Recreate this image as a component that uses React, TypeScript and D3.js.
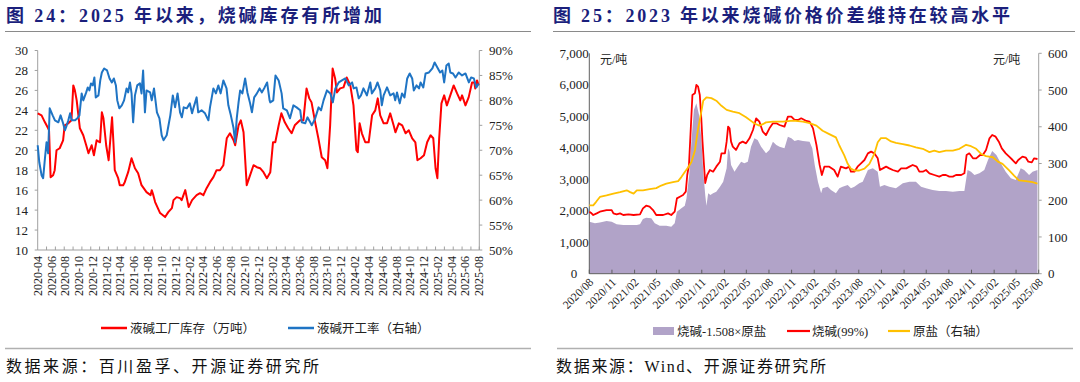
import React from "react";
import * as d3 from "d3";

// ---------- Left chart data ----------
const leftTitle = "图 24：2025 年以来，烧碱库存有所增加";
const leftSource = "数据来源：百川盈孚、开源证券研究所";
const leftSeriesNames = ["液碱工厂库存（万吨）", "液碱开工率（右轴）"];
const leftYTicks = [10, 12, 14, 16, 18, 20, 22, 24, 26, 28, 30];
const leftY2Ticks = [50, 55, 60, 65, 70, 75, 80, 85, 90];

// 液碱工厂库存（万吨）
const inventory: [string, number][] = [
  ["2020-04-01",23.7],["2020-04-18",23.5],["2020-05-03",22.8],["2020-05-17",22.2],["2020-05-21",22.0],["2020-05-28",17.3],
  ["2020-06-08",17.5],["2020-06-15",18.0],["2020-06-23",20.0],["2020-07-07",20.2],["2020-07-22",21.0],["2020-07-29",22.5],
  ["2020-08-14",22.7],["2020-08-28",23.0],["2020-09-05",26.5],["2020-09-12",26.0],["2020-09-20",25.0],["2020-10-04",22.2],
  ["2020-10-19",21.5],["2020-11-01",20.5],["2020-11-11",19.7],["2020-11-25",20.5],["2020-12-05",19.5],["2020-12-17",21.0],
  ["2021-01-01",20.8],["2021-01-09",23.8],["2021-01-16",23.2],["2021-01-28",20.5],["2021-02-08",19.0],["2021-02-23",23.3],
  ["2021-03-01",20.8],["2021-03-07",18.0],["2021-03-22",17.2],["2021-03-29",16.5],["2021-04-13",16.5],["2021-04-20",16.8],
  ["2021-05-05",17.8],["2021-05-20",19.2],["2021-06-04",18.2],["2021-06-18",17.7],["2021-07-03",16.5],["2021-07-25",15.8],
  ["2021-08-12",15.5],["2021-08-17",16.0],["2021-08-24",15.5],["2021-09-01",14.8],["2021-09-23",13.7],["2021-10-15",13.3],
  ["2021-10-29",13.8],["2021-11-14",14.2],["2021-11-21",15.0],["2021-12-05",15.3],["2021-12-20",15.2],["2021-12-27",15.0],
  ["2022-01-12",16.0],["2022-01-27",14.3],["2022-02-11",15.0],["2022-03-03",15.5],["2022-03-18",15.7],["2022-04-02",15.5],
  ["2022-04-16",16.2],["2022-05-01",16.8],["2022-05-16",17.3],["2022-05-30",18.0],["2022-06-14",18.0],["2022-06-29",18.5],
  ["2022-07-14",21.2],["2022-07-28",21.7],["2022-08-13",21.0],["2022-08-20",20.5],["2022-09-04",22.5],["2022-09-14",23.0],
  ["2022-09-26",21.8],["2022-10-10",16.5],["2022-10-25",17.5],["2022-11-09",18.5],["2022-11-24",18.3],["2022-12-08",18.2],
  ["2022-12-23",17.8],["2023-01-07",17.2],["2023-01-22",17.8],["2023-02-03",20.8],["2023-02-13",20.8],["2023-02-28",22.5],
  ["2023-03-12",23.7],["2023-03-27",22.8],["2023-04-11",22.2],["2023-04-26",21.7],["2023-05-10",22.5],["2023-06-02",23.0],
  ["2023-06-17",23.0],["2023-07-01",26.2],["2023-07-13",25.2],["2023-07-23",24.8],["2023-08-08",22.8],["2023-08-22",21.2],
  ["2023-09-06",19.3],["2023-09-21",19.0],["2023-10-01",18.2],["2023-10-13",22.5],["2023-10-24",28.2],["2023-11-04",27.2],
  ["2023-11-12",25.8],["2023-11-26",26.2],["2023-12-11",26.3],["2023-12-25",27.3],["2024-01-10",26.5],["2024-01-24",24.5],
  ["2024-02-06",20.0],["2024-02-12",19.8],["2024-02-20",22.7],["2024-03-01",21.7],["2024-03-16",20.8],["2024-03-31",20.8],
  ["2024-04-15",23.5],["2024-04-29",24.0],["2024-05-10",25.2],["2024-05-21",23.5],["2024-06-05",22.7],["2024-06-20",22.7],
  ["2024-07-04",23.7],["2024-07-19",22.5],["2024-07-27",21.8],["2024-08-11",22.7],["2024-08-26",22.5],["2024-09-10",21.7],
  ["2024-09-24",22.0],["2024-10-09",21.2],["2024-10-23",20.8],["2024-11-01",19.0],["2024-11-15",19.2],["2024-11-30",19.5],
  ["2024-12-14",20.8],["2024-12-29",21.5],["2025-01-10",21.2],["2025-01-20",18.2],["2025-01-28",17.2],["2025-02-05",21.2],
  ["2025-02-15",24.7],["2025-02-27",25.5],["2025-03-11",24.5],["2025-03-26",25.5],["2025-04-10",26.5],["2025-04-25",25.7],
  ["2025-05-09",25.0],["2025-05-17",25.5],["2025-06-01",24.5],["2025-06-15",25.3],["2025-06-30",26.8],["2025-07-10",26.8],
  ["2025-07-14",26.2],["2025-07-22",27.0],["2025-07-29",26.5],
];

// 液碱开工率（%，右轴）
const utilization: [string, number][] = [
  ["2020-04-01",71],["2020-04-08",67.6],["2020-04-18",65],["2020-04-25",64.4],["2020-05-03",68.4],["2020-05-10",71.6],
  ["2020-05-17",69.4],["2020-05-24",78.4],["2020-06-06",77],["2020-06-16",76],["2020-07-01",75.6],["2020-07-11",77],
  ["2020-07-22",75.4],["2020-07-30",74],["2020-08-07",75],["2020-08-14",76],["2020-08-22",77.4],["2020-08-29",76],
  ["2020-09-13",76],["2020-09-23",76.4],["2020-10-02",77],["2020-10-12",81.4],["2020-10-19",80],["2020-11-01",81.6],
  ["2020-11-08",82.6],["2020-11-15",82],["2020-11-22",83.4],["2020-11-30",83],["2020-12-07",84.6],["2020-12-13",80.6],
  ["2020-12-25",81],["2021-01-02",84],["2021-01-09",85.6],["2021-01-19",86.4],["2021-02-01",86],["2021-02-12",84.4],
  ["2021-02-22",83.6],["2021-03-03",84.4],["2021-03-12",83],["2021-03-18",80],["2021-03-27",78.4],["2021-04-07",79],
  ["2021-04-17",80],["2021-04-28",82.4],["2021-05-05",81.6],["2021-05-13",83.6],["2021-05-20",81.4],["2021-05-27",75.6],
  ["2021-06-04",81],["2021-06-14",83],["2021-06-26",83.4],["2021-07-03",81.4],["2021-07-10",86],["2021-07-18",77.6],
  ["2021-07-25",82],["2021-08-10",81.6],["2021-08-17",80],["2021-08-27",82.4],["2021-09-09",77.6],["2021-09-20",76.4],
  ["2021-09-30",73],["2021-10-08",72],["2021-10-22",73],["2021-11-07",77],["2021-11-18",81],["2021-11-28",78.6],
  ["2021-12-09",81.4],["2021-12-20",77.6],["2021-12-28",76.6],["2022-01-05",78.6],["2022-01-19",78.4],["2022-02-01",79.4],
  ["2022-02-11",77.4],["2022-02-18",78.6],["2022-03-03",80.6],["2022-03-10",77.6],["2022-03-25",78],["2022-04-09",77.4],
  ["2022-04-24",76],["2022-05-01",78.6],["2022-05-16",82.4],["2022-05-27",81.4],["2022-06-07",83],["2022-06-17",81.4],
  ["2022-06-29",84],["2022-07-13",82.4],["2022-07-21",79],["2022-08-01",77],["2022-08-13",74.4],["2022-08-20",71.6],
  ["2022-08-27",76.4],["2022-09-04",79.6],["2022-09-11",82],["2022-09-21",81.4],["2022-10-03",84.4],["2022-10-13",81.6],
  ["2022-10-25",79.4],["2022-11-02",77.6],["2022-11-12",80.6],["2022-11-24",81.4],["2022-12-06",82.4],["2022-12-16",81.6],
  ["2022-12-28",82.6],["2023-01-08",83.6],["2023-01-19",80],["2023-01-22",79.6],["2023-02-04",80],["2023-02-14",85],
  ["2023-02-28",84],["2023-03-13",81.4],["2023-03-20",78.4],["2023-04-05",78],["2023-04-19",76.4],["2023-05-04",79],
  ["2023-05-18",78.6],["2023-06-03",78],["2023-06-10",75.6],["2023-06-25",75.4],["2023-07-05",76.6],["2023-07-17",75.6],
  ["2023-07-24",75],["2023-08-08",76.4],["2023-08-23",78.6],["2023-09-03",78],["2023-09-14",80],["2023-09-29",82],
  ["2023-10-14",81.4],["2023-10-25",79.6],["2023-11-05",82.4],["2023-11-20",83.6],["2023-12-04",84],["2023-12-19",84.4],
  ["2024-01-03",83],["2024-01-18",83.6],["2024-01-25",82.4],["2024-02-06",82.6],["2024-02-16",80.4],["2024-02-26",81],
  ["2024-03-08",82.4],["2024-03-23",81],["2024-04-07",83.6],["2024-04-14",81.4],["2024-04-29",82.4],["2024-05-09",83.6],
  ["2024-05-21",82],["2024-05-28",79],["2024-06-05",81],["2024-06-20",82.6],["2024-07-04",81],["2024-07-19",81.4],
  ["2024-07-26",80],["2024-08-03",81.6],["2024-08-15",79.4],["2024-08-25",81.4],["2024-09-05",80.6],["2024-09-17",84.4],
  ["2024-09-28",85.4],["2024-10-09",84.4],["2024-10-16",82],["2024-10-28",83],["2024-11-08",82.4],["2024-11-15",83.6],
  ["2024-11-27",82.6],["2024-12-07",85.4],["2024-12-22",85.6],["2025-01-06",86.4],["2025-01-16",87.6],["2025-01-28",86.6],
  ["2025-02-09",85.6],["2025-02-19",86],["2025-02-27",83.6],["2025-03-09",87],["2025-03-19",87.4],["2025-03-26",85.6],
  ["2025-04-07",85.4],["2025-04-18",84.6],["2025-05-02",85.6],["2025-05-17",85],["2025-06-01",85.4],["2025-06-16",83.6],
  ["2025-06-26",84.6],["2025-07-08",84.4],["2025-07-19",82.6],["2025-07-29",83.4],
];

// ---------- Right chart data ----------
const rightTitle = "图 25：2023 年以来烧碱价格价差维持在较高水平";
const rightSource = "数据来源：Wind、开源证券研究所";
const rightSeriesNames = ["烧碱-1.508×原盐", "烧碱(99%)", "原盐（右轴）"];
const rightYTicks = [0, 1000, 2000, 3000, 4000, 5000, 6000, 7000];
const rightY2Ticks = [0, 100, 200, 300, 400, 500, 600];
const unitLabel = "元/吨";

// 烧碱(99%) 元/吨
const causticSoda: [string, number][] = [
  ["2020-08-01",1970],["2020-08-10",1917],["2020-08-17",1864],["2020-08-31",1917],["2020-09-13",1970],["2020-10-10",2020],
  ["2020-10-31",2020],["2020-11-07",1917],["2020-11-20",1885],["2020-12-04",1917],["2020-12-17",1864],["2021-01-07",1885],
  ["2021-01-28",1864],["2021-02-23",1885],["2021-03-07",2075],["2021-03-20",2160],["2021-04-03",2130],["2021-04-17",2020],
  ["2021-04-30",1864],["2021-05-28",1864],["2021-06-17",1917],["2021-06-30",1864],["2021-07-14",1970],["2021-07-23",2393],
  ["2021-08-04",2446],["2021-08-17",2500],["2021-08-28",2605],["2021-09-03",3135],["2021-09-10",3452],["2021-09-16",4405],
  ["2021-09-24",5676],["2021-10-04",5730],["2021-10-10",5994],["2021-10-17",5940],["2021-10-24",5676],["2021-10-30",4935],
  ["2021-11-04",4194],["2021-11-10",3452],["2021-11-15",2880],["2021-11-23",3135],["2021-12-04",3293],["2021-12-17",3240],
  ["2021-12-30",3400],["2022-01-14",3558],["2022-01-20",3823],["2022-02-03",3823],["2022-02-10",4194],["2022-02-16",4670],
  ["2022-02-22",4617],["2022-02-28",4194],["2022-03-07",4035],["2022-03-20",3930],["2022-04-03",4140],["2022-04-16",4194],
  ["2022-04-30",4140],["2022-05-14",4300],["2022-05-28",4564],["2022-06-10",4935],["2022-06-23",4829],["2022-07-07",4511],
  ["2022-07-20",4405],["2022-08-03",4617],["2022-08-17",4776],["2022-08-31",4776],["2022-09-13",4723],["2022-10-03",4670],
  ["2022-10-17",4988],["2022-10-31",4988],["2022-11-13",4882],["2022-11-27",4882],["2022-12-10",4935],["2022-12-31",4850],
  ["2023-01-13",4829],["2023-01-27",4617],["2023-02-10",4088],["2023-02-23",3452],["2023-03-04",3135],["2023-03-14",3400],
  ["2023-04-03",3400],["2023-04-23",3293],["2023-05-07",3082],["2023-05-20",3400],["2023-06-10",3346],["2023-06-23",3400],
  ["2023-06-30",3240],["2023-07-14",3240],["2023-07-27",3400],["2023-08-10",3505],["2023-08-24",3611],["2023-09-07",3823],
  ["2023-09-20",3876],["2023-10-03",3823],["2023-10-17",3664],["2023-10-26",3293],["2023-11-07",3346],["2023-11-20",3400],
  ["2023-12-03",3346],["2023-12-17",3293],["2024-01-07",3240],["2024-01-20",3346],["2024-02-10",3346],["2024-02-23",3400],
  ["2024-03-07",3452],["2024-03-23",3400],["2024-04-03",3240],["2024-04-17",3240],["2024-04-30",3293],["2024-05-14",3188],
  ["2024-06-03",3135],["2024-06-23",3082],["2024-07-07",3135],["2024-07-20",3135],["2024-08-03",3082],["2024-08-17",3082],
  ["2024-08-30",3135],["2024-09-20",3135],["2024-10-03",3188],["2024-10-12",3770],["2024-10-23",3823],["2024-11-07",3664],
  ["2024-11-20",3664],["2024-12-06",3770],["2024-12-17",3770],["2024-12-30",3930],["2025-01-13",4300],["2025-01-24",4405],
  ["2025-02-07",4352],["2025-02-20",4194],["2025-03-04",3982],["2025-03-20",3823],["2025-04-03",3717],["2025-04-17",3611],
  ["2025-04-30",3505],["2025-05-10",3611],["2025-05-27",3717],["2025-06-10",3685],["2025-06-20",3558],["2025-07-04",3537],
  ["2025-07-13",3664],["2025-07-27",3643],
];

// 原盐（右轴）元/吨
const rawSalt: [string, number][] = [
  ["2020-08-01",186],["2020-08-17",186],["2020-08-28",195],["2020-09-13",209],["2020-10-10",213],["2020-11-07",218],
  ["2020-12-04",222],["2020-12-31",227],["2021-01-14",222],["2021-01-28",218],["2021-02-10",227],["2021-03-07",227],
  ["2021-04-03",230],["2021-04-30",233],["2021-05-20",240],["2021-06-10",245],["2021-07-07",249],["2021-07-28",252],
  ["2021-08-10",263],["2021-08-24",277],["2021-09-07",290],["2021-09-20",304],["2021-10-04",335],["2021-10-17",394],
  ["2021-10-31",444],["2021-11-07",471],["2021-11-20",480],["2021-12-10",478],["2021-12-30",471],["2022-01-20",457],
  ["2022-02-10",446],["2022-03-07",441],["2022-04-03",437],["2022-04-30",426],["2022-05-28",412],["2022-06-10",407],
  ["2022-06-23",403],["2022-07-07",407],["2022-07-20",412],["2022-08-17",414],["2022-09-27",414],["2022-11-07",417],
  ["2022-12-17",414],["2023-01-13",410],["2023-02-10",403],["2023-03-07",389],["2023-04-03",380],["2023-04-30",371],
  ["2023-05-14",349],["2023-06-03",322],["2023-06-17",299],["2023-06-30",286],["2023-07-14",281],["2023-08-03",281],
  ["2023-08-24",286],["2023-09-13",299],["2023-10-03",326],["2023-10-17",358],["2023-10-30",369],["2023-11-20",369],
  ["2023-12-10",360],["2023-12-30",356],["2024-01-27",353],["2024-02-23",349],["2024-03-20",344],["2024-04-17",340],
  ["2024-05-14",331],["2024-06-03",335],["2024-06-23",331],["2024-07-20",335],["2024-08-17",335],["2024-09-13",340],
  ["2024-10-10",351],["2024-10-30",347],["2024-11-20",340],["2024-12-10",326],["2024-12-30",320],["2025-01-27",317],
  ["2025-02-16",305],["2025-03-07",299],["2025-04-03",281],["2025-04-23",267],["2025-05-13",254],["2025-06-10",252],
  ["2025-07-07",249],["2025-07-27",245],
];

// 烧碱-1.508×原盐 元/吨
const spread: [string, number][] = [
  ["2020-08-01",1652],["2020-08-24",1599],["2020-09-13",1630],["2020-10-10",1673],["2020-10-31",1652],["2020-11-20",1567],
  ["2020-12-17",1546],["2021-01-14",1546],["2021-02-10",1546],["2021-02-23",1567],["2021-03-07",1737],["2021-03-20",1779],
  ["2021-04-10",1758],["2021-04-24",1599],["2021-05-14",1525],["2021-06-10",1525],["2021-06-30",1493],["2021-07-14",1599],
  ["2021-07-23",1970],["2021-08-10",2075],["2021-08-24",2160],["2021-08-31",2393],["2021-09-11",3135],["2021-09-20",4194],
  ["2021-09-30",5200],["2021-10-10",5411],["2021-10-21",5040],["2021-10-30",4300],["2021-11-07",3240],["2021-11-15",2500],
  ["2021-11-20",2160],["2021-11-27",2552],["2021-12-06",2500],["2021-12-17",2552],["2021-12-30",2605],["2022-01-14",2764],
  ["2022-01-27",2923],["2022-02-10",3346],["2022-02-16",3982],["2022-02-22",3876],["2022-02-28",3452],["2022-03-14",3240],
  ["2022-03-27",3400],["2022-04-10",3558],["2022-04-23",3505],["2022-05-07",3558],["2022-05-20",4035],["2022-06-03",4300],
  ["2022-06-16",4247],["2022-06-30",4035],["2022-07-20",3823],["2022-08-03",3930],["2022-08-17",4194],["2022-08-31",4088],
  ["2022-09-13",4035],["2022-10-03",3982],["2022-10-17",4353],["2022-10-31",4300],["2022-11-13",4215],["2022-11-27",4247],
  ["2022-12-17",4215],["2023-01-13",4194],["2023-01-24",3982],["2023-02-03",3452],["2023-02-16",2923],["2023-03-01",2552],
  ["2023-03-07",2711],["2023-03-27",2764],["2023-04-10",2658],["2023-04-30",2552],["2023-05-14",2711],["2023-05-27",2764],
  ["2023-06-17",2817],["2023-06-30",2711],["2023-07-14",2764],["2023-08-03",2870],["2023-08-17",2923],["2023-09-07",3293],
  ["2023-09-27",3346],["2023-10-17",3240],["2023-10-26",2764],["2023-11-13",2817],["2023-12-03",2764],["2023-12-30",2711],
  ["2024-01-27",2870],["2024-02-23",2923],["2024-03-20",2923],["2024-04-10",2764],["2024-04-30",2711],["2024-05-27",2658],
  ["2024-06-23",2626],["2024-07-20",2626],["2024-08-17",2605],["2024-09-13",2626],["2024-10-03",2626],["2024-10-16",3293],
  ["2024-10-30",3240],["2024-11-13",3135],["2024-12-03",3188],["2024-12-23",3293],["2025-01-07",3611],["2025-01-24",3897],
  ["2025-02-10",3770],["2025-03-04",3452],["2025-03-20",3240],["2025-04-10",3029],["2025-04-30",2976],["2025-05-20",3346],
  ["2025-06-03",3293],["2025-06-23",3135],["2025-07-07",3240],["2025-07-27",3293],
];

const parse = d3.timeParse("%Y-%m-%d");
const SERIF = "'Liberation Serif','Times New Roman','Noto Sans CJK SC',serif";
const CJK = "'Liberation Serif','Noto Sans CJK SC',sans-serif";
const TITLE_COLOR = "#1b1f7c";

export default function App() {
  // ---- left chart scales ----
  const lStart = parse("2020-04-01")!;
  const lEnd = parse("2025-08-01")!;
  const xL = d3.scaleTime().domain([lStart, lEnd]).range([37.7, 479.3]);
  const yL = d3.scaleLinear().domain([10, 30]).range([250, 50.5]);
  const yL2 = d3.scaleLinear().domain([50, 90]).range([250, 50.5]);
  const lLabels = d3.timeMonth.range(lStart, d3.timeDay.offset(lEnd, 1), 2);
  const lTicks: Date[] = [];
  for (let d = d3.timeDay.offset(lStart, 39); d <= lEnd; d = d3.timeDay.offset(d, 39)) lTicks.push(d);
  lTicks.push(lEnd);
  const invLine = d3.line<[string, number]>().x(d => xL(parse(d[0])!)).y(d => yL(d[1]))(inventory) || "";
  const utilLine = d3.line<[string, number]>().x(d => xL(parse(d[0])!)).y(d => yL2(d[1]))(utilization) || "";
  const fmtL = d3.timeFormat("%Y-%m");

  // ---- right chart scales ----
  const rStart = parse("2020-08-01")!;
  const rEnd = parse("2025-08-01")!;
  const xR = d3.scaleTime().domain([rStart, rEnd]).range([589.3, 1038.7]);
  const yR = d3.scaleLinear().domain([0, 7000]).range([273.7, 53.3]);
  const yR2 = d3.scaleLinear().domain([0, 600]).range([273.7, 53.3]);
  const rTicks = d3.timeMonth.range(rStart, d3.timeDay.offset(rEnd, 1), 3);
  const fmtR = d3.timeFormat("%Y/%m");
  const spreadArea = d3.area<[string, number]>().x(d => xR(parse(d[0])!)).y0(yR(0)).y1(d => yR(d[1]))(spread) || "";
  const sodaLine = d3.line<[string, number]>().x(d => xR(parse(d[0])!)).y(d => yR(d[1]))(causticSoda) || "";
  const saltLine = d3.line<[string, number]>().x(d => xR(parse(d[0])!)).y(d => yR2(d[1]))(rawSalt) || "";
  const fmtN = d3.format(",");

  const lAxis = "#a0a0a0";
  const rAxis = "#606060";

  return (
    <div style={{ position: "fixed", left: 0, top: 0, width: 1080, height: 382, background: "#fff" }}>
      <svg width={1080} height={382} style={{ display: "block" }}>
        <rect x={0} y={0} width={1080} height={382} fill="#fff" />
        {/* Titles */}
        <text x={6} y={22} fontFamily={CJK} fontSize={18} fontWeight="bold" fill={TITLE_COLOR} textLength={376} lengthAdjust="spacing">{leftTitle}</text>
        <text x={553} y={22} fontFamily={CJK} fontSize={18} fontWeight="bold" fill={TITLE_COLOR} textLength={457} lengthAdjust="spacing">{rightTitle}</text>
        <line x1={5} x2={531} y1={31.5} y2={31.5} stroke="#8a8a8a" strokeWidth={1} />
        <line x1={553} x2={1075} y1={31.5} y2={31.5} stroke="#8a8a8a" strokeWidth={1} />

        {/* ===== Left chart ===== */}
        <g>
          <line x1={37.7} x2={37.7} y1={50.5} y2={250} stroke={lAxis} />
          <line x1={479.3} x2={479.3} y1={50.5} y2={250} stroke={lAxis} />
          <line x1={37.7} x2={479.3} y1={250} y2={250} stroke={lAxis} />
          {leftYTicks.map(v => (
            <g key={"ly" + v}>
              <line x1={34.7} x2={37.7} y1={yL(v)} y2={yL(v)} stroke={lAxis} />
              <text x={28} y={yL(v)} dy="0.35em" textAnchor="end" fontFamily={SERIF} fontSize={13} fill="#222">{v}</text>
            </g>
          ))}
          {leftY2Ticks.map(v => (
            <g key={"ly2" + v}>
              <line x1={479.3} x2={482.3} y1={yL2(v)} y2={yL2(v)} stroke={lAxis} />
              <text x={489} y={yL2(v)} dy="0.35em" textAnchor="start" fontFamily={SERIF} fontSize={13} fill="#222">{v + "%"}</text>
            </g>
          ))}
          {lTicks.map((d, i) => (
            <line key={"lt" + i} x1={xL(d)} x2={xL(d)} y1={250} y2={246.5} stroke={lAxis} />
          ))}
          {lLabels.map((d, i) => (
            <text key={"ll" + i} transform={`translate(${xL(d) + 4},256) rotate(-90)`} textAnchor="end" fontFamily={SERIF} fontSize={12} fill="#222">{fmtL(d)}</text>
          ))}
          <path d={invLine} fill="none" stroke="#ff0000" strokeWidth={2} strokeLinejoin="round" />
          <path d={utilLine} fill="none" stroke="#1f74c4" strokeWidth={2} strokeLinejoin="round" />
          {/* legend */}
          <line x1={101} x2={127} y1={328} y2={328} stroke="#ff0000" strokeWidth={2.5} />
          <text x={130} y={332.5} fontFamily={CJK} fontSize={12.5} fill="#222">{leftSeriesNames[0]}</text>
          <line x1={288} x2={314} y1={328} y2={328} stroke="#1f74c4" strokeWidth={2.5} />
          <text x={317} y={332.5} fontFamily={CJK} fontSize={12.5} fill="#222">{leftSeriesNames[1]}</text>
        </g>

        {/* ===== Right chart ===== */}
        <g>
          <path d={spreadArea} fill="#b1a3c8" stroke="none" />
          <line x1={589.3} x2={589.3} y1={53.3} y2={273.7} stroke={rAxis} />
          <line x1={1038.7} x2={1038.7} y1={53.3} y2={273.7} stroke="#a0a0a0" />
          {rightYTicks.map(v => (
            <text key={"ry" + v} x={574} y={yR(v)} dy="0.35em" textAnchor="middle" fontFamily={SERIF} fontSize={13} fill="#222">{fmtN(v)}</text>
          ))}
          {rightY2Ticks.map(v => (
            <g key={"ry2" + v}>
              <line x1={1038.7} x2={1041.7} y1={yR2(v)} y2={yR2(v)} stroke="#a0a0a0" />
              <text x={1048} y={yR2(v)} dy="0.35em" textAnchor="start" fontFamily={SERIF} fontSize={13} fill="#222">{v}</text>
            </g>
          ))}
          <path d={sodaLine} fill="none" stroke="#ff0000" strokeWidth={1.8} strokeLinejoin="round" />
          <path d={saltLine} fill="none" stroke="#ffc000" strokeWidth={1.8} strokeLinejoin="round" />
          <line x1={589.3} x2={1038.7} y1={273.7} y2={273.7} stroke={rAxis} />
          {rTicks.map((d, i) => (
            <g key={"rt" + i}>
              <line x1={xR(d)} x2={xR(d)} y1={273.7} y2={269.7} stroke={rAxis} />
              <text transform={`translate(${xR(d) + 2},280) rotate(-45)`} textAnchor="end" dy="0.35em" fontFamily={SERIF} fontSize={11.5} fill="#222">{fmtR(d)}</text>
            </g>
          ))}
          <text x={600} y={64} fontFamily={CJK} fontSize={12} fill="#222">{unitLabel}</text>
          <text x={993} y={64} fontFamily={CJK} fontSize={12} fill="#222">{unitLabel}</text>
          {/* legend */}
          <rect x={653} y={327} width={21} height={8} fill="#b1a3c8" />
          <text x={677} y={335.5} fontFamily={CJK} fontSize={12.5} fill="#222">{rightSeriesNames[0]}</text>
          <line x1={787} x2={810} y1={331} y2={331} stroke="#ff0000" strokeWidth={2.2} />
          <text x={812} y={335.5} fontFamily={CJK} fontSize={12.5} fill="#222">{rightSeriesNames[1]}</text>
          <line x1={888} x2={910} y1={331} y2={331} stroke="#ffc000" strokeWidth={2.2} />
          <text x={913} y={335.5} fontFamily={CJK} fontSize={12.5} fill="#222">{rightSeriesNames[2]}</text>
        </g>

        {/* Footer */}
        <line x1={5} x2={531} y1={348.5} y2={348.5} stroke="#b0b0b0" strokeWidth={1.5} />
        <line x1={557} x2={1073} y1={348.5} y2={348.5} stroke="#b0b0b0" strokeWidth={1.5} />
        <text x={6} y={372} fontFamily={CJK} fontSize={16} fill="#111" textLength={313} lengthAdjust="spacing">{leftSource}</text>
        <text x={556} y={372} fontFamily={CJK} fontSize={16} fill="#111" textLength={270} lengthAdjust="spacing">{rightSource}</text>
      </svg>
    </div>
  );
}
